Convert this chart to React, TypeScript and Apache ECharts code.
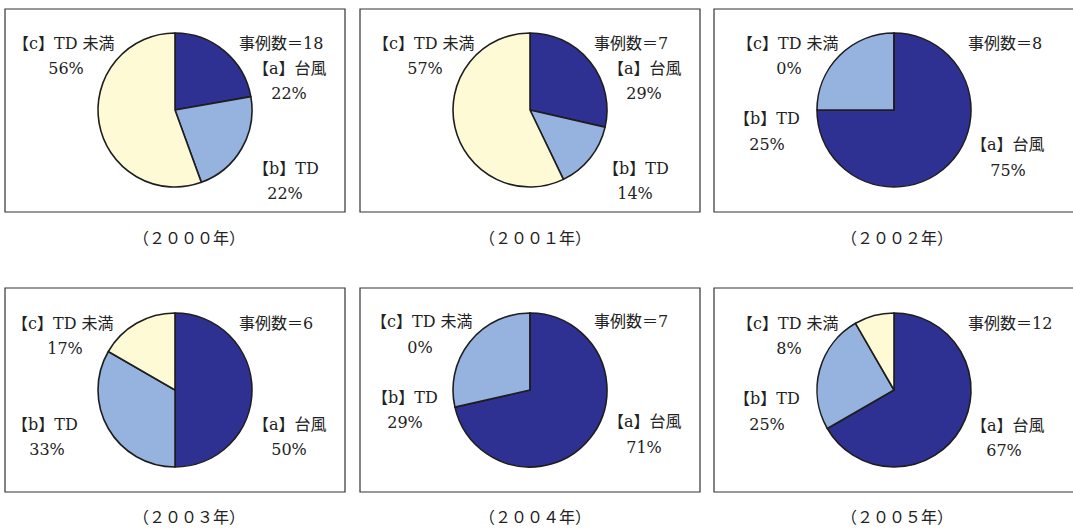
import React, { useEffect, useRef } from "react";
import * as echarts from "echarts";

// Case counts per year, split by category
const years = ["２０００", "２００１", "２００２", "２００３", "２００４", "２００５"];
const categoryNames = ["【a】台風", "【b】TD", "【c】TD 未満"];
const typhoonCounts = [4, 2, 6, 3, 5, 8];
const tdCounts = [4, 1, 2, 2, 2, 3];
const belowTdCounts = [10, 4, 0, 1, 0, 1];

const COLORS = ["#2E3192", "#95B3DE", "#FFFAD6"];
const TEXT = "#222";
const FONT = "DejaVu Serif, Noto Sans CJK JP, serif";
const FS = 16;

// Panel frames and pie centres (pixels)
const panels = [
  { box: [5, 9, 340, 203], c: [175, 110], cap: [189, 238] },
  { box: [360, 9, 340, 203], c: [530, 110], cap: [535, 238] },
  { box: [714, 9, 362, 203], c: [894, 110], cap: [897, 238] },
  { box: [5, 288, 340, 204], c: [175, 390], cap: [189, 517] },
  { box: [360, 288, 340, 204], c: [530, 390], cap: [535, 517] },
  { box: [714, 288, 362, 204], c: [894, 390], cap: [897, 517] },
];

// Label anchors per panel: [name left x, name y, percent centre x, percent y] for a, b, c; count text left x, y
type Anchor = [number, number, number, number];
const labelLayout: { a: Anchor; b: Anchor; c: Anchor; n: [number, number] }[] = [
  { a: [253, 68, 289, 93], b: [253, 168, 285, 193], c: [13, 43, 66, 68], n: [239, 43] },
  { a: [608, 68, 644, 93], b: [603, 168, 635, 193], c: [373, 43, 425, 68], n: [594, 43] },
  { a: [971, 144, 1008, 170], b: [734, 118, 767, 144], c: [737, 43, 789, 68], n: [968, 43] },
  { a: [253, 424, 289, 449], b: [12, 424, 47, 449], c: [12, 323, 65, 348], n: [239, 323] },
  { a: [608, 421, 644, 447], b: [372, 397, 405, 422], c: [371, 321, 420, 347], n: [594, 321] },
  { a: [971, 425, 1004, 450], b: [734, 398, 767, 424], c: [737, 323, 789, 348], n: [968, 323] },
];

export default function App() {
  const ref = useRef<HTMLDivElement>(null);

  useEffect(() => {
    if (!ref.current) return;
    const chart = echarts.init(ref.current, undefined, { renderer: "svg" });

    const graphics: any[] = [];
    const series: any[] = [];

    const textStyle = (text: string, align: string, size = FS) => ({
      text,
      fill: TEXT,
      fontSize: size,
      fontFamily: FONT,
      textAlign: align,
      textVerticalAlign: "middle",
    });

    years.forEach((year, i) => {
      const p = panels[i];
      const lay = labelLayout[i];
      const counts = [typhoonCounts[i], tdCounts[i], belowTdCounts[i]];
      const total = counts.reduce((s, v) => s + v, 0);
      const pct = counts.map((v) => Math.round((v / total) * 100));

      graphics.push({
        type: "rect",
        shape: { x: p.box[0], y: p.box[1], width: p.box[2], height: p.box[3] },
        style: { fill: "#fff", stroke: "#333", lineWidth: 1.2 },
        z: 0,
      });

      series.push({
        type: "pie",
        center: p.c,
        radius: 77,
        startAngle: 90,
        clockwise: true,
        label: { show: false },
        labelLine: { show: false },
        silent: true,
        z: 5,
        itemStyle: { borderColor: "#1e1e1e", borderWidth: 1.6 },
        data: categoryNames.map((name, k) => ({
          name,
          value: counts[k],
          itemStyle: { color: COLORS[k] },
        })),
      });

      const anchors = [lay.a, lay.b, lay.c];
      anchors.forEach((an, k) => {
        graphics.push({
          type: "text",
          x: an[0],
          y: an[1],
          z: 10,
          style: textStyle(categoryNames[k], "left"),
        });
        graphics.push({
          type: "text",
          x: an[2],
          y: an[3],
          z: 10,
          style: textStyle(`${pct[k]}%`, "center"),
        });
      });

      graphics.push({
        type: "text",
        x: lay.n[0],
        y: lay.n[1],
        z: 10,
        style: textStyle(`事例数＝${total}`, "left"),
      });

      graphics.push({
        type: "text",
        x: p.cap[0],
        y: p.cap[1],
        z: 10,
        style: textStyle(`（${year}年）`, "center", 16),
      });
    });

    chart.setOption({
      animation: false,
      backgroundColor: "#fff",
      graphic: { elements: graphics },
      series,
    });

    return () => chart.dispose();
  }, []);

  return (
    <div
      ref={ref}
      style={{ position: "absolute", left: 0, top: 0, width: 1073, height: 528 }}
    />
  );
}
